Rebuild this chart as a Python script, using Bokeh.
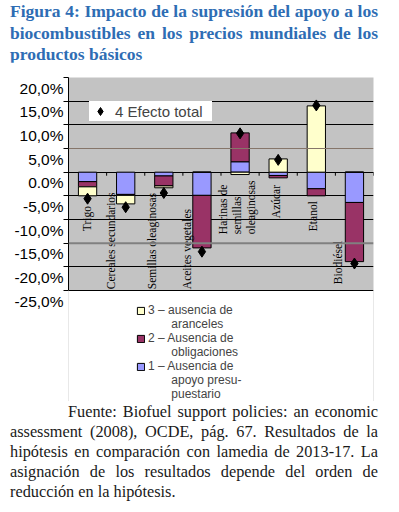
import numpy as np
from bokeh.plotting import figure
from bokeh.models import (ColumnDataSource, Range1d, FactorRange, FixedTicker, Legend,
                          LegendItem, Span, Div, BoxAnnotation, LinearAxis)
from bokeh.layouts import column
from bokeh.embed import file_html
from bokeh.resources import INLINE
from bokeh.core.properties import value

# ---------------- data ----------------
categories = ["Trigo", "Cereales secundarios", "Semillas oleaginosas", "Aceites vegetales",
              "Harinas de semillas oleaginosas", "Azúcar", "Etanol", "Biodiésel"]
category_labels = ["Trigo", "Cereales secundarios", "Semillas oleaginosas", "Aceites vegetales",
                   "Harinas de\nsemillas\noleaginosas", "Azúcar", "Etanol", "Biodiésel"]
s1_apoyo = [-2.0, -4.7, -0.8, -4.9, 2.2, -0.7, -3.5, -6.4]
s2_obligaciones = [-1.1, -0.2, -2.1, -11.1, 6.1, -0.5, -1.5, -12.5]
s3_aranceles = [-1.9, -1.8, -0.4, 0.0, -0.5, 2.8, 14.0, 0.0]
s4_total = [-5.6, -7.4, -4.4, -16.8, 8.2, 2.6, 14.1, -19.3]
y_ticks = [20, 15, 10, 5, 0, -5, -10, -15, -20, -25]
y_tick_labels = ["20,0%", "15,0%", "10,0%", "5,0%", "0.0%", "-5,0%", "-10,0%",
                 "-15,0%", "-20,0%", "-25,0%"]
total_label = "4 Efecto total"
legend_s3 = ["3 – ausencia de", "aranceles"]
legend_s2 = ["2 – Ausencia de", "obligaciones"]
legend_s1 = ["1 – Ausencia de", "apoyo presu-", "puestario"]
title_lines = ["Figura 4: Impacto de la supresión del apoyo a los",
               "biocombustibles en los precios mundiales de los",
               "productos básicos"]
caption_lines = ["Fuente: Biofuel support policies: an economic",
                 "assessment (2008), OCDE, pág. 67. Resultados de la",
                 "hipótesis en comparación con lamedia de 2013-17. La",
                 "asignación de los resultados depende del orden de",
                 "reducción en la hipótesis."]

# ---------------- styles ----------------
C_PURPLE = "#9999FF"
C_MAROON = "#993366"
C_YELLOW = "#FFFFCC"
label_dx = [-1, -15, -12, -15, -3, -2, -3, -16]     # px, horizontal nudge of category labels
label_dy = [59, 117, 117, 117, 62, 46, 59, 112]     # px below zero line where label text starts

Y_TOP, Y_BOT = 20, -25
PX_PER = 213 / (Y_TOP - Y_BOT)      # pixels per percentage point in the plot area
FIG_H, BORDER_TOP = 339, 15
FRAME_H = FIG_H - BORDER_TOP
y_start = Y_TOP - FRAME_H / PX_PER   # frame continues (white) below the plot area
LAB_SHIFT = 10.5 / PX_PER            # tick labels sit ~10px below their gridlines

p = figure(x_range=FactorRange(*categories), y_range=Range1d(y_start, Y_TOP),
           width=391, height=FIG_H, min_border_left=68, min_border_right=18,
           min_border_top=BORDER_TOP, min_border_bottom=0,
           output_backend="svg", toolbar_location=None)
p.background_fill_color = "#C3C3C3"
p.border_fill_color = "white"
p.outline_line_color = None
p.xaxis.visible = False
p.xgrid.visible = False
p.ygrid.ticker = FixedTicker(ticks=[15, 10, 0, -5, -10, -20])
p.ygrid.grid_line_color = "black"
p.ygrid.grid_line_width = 1
p.add_layout(Span(location=5, dimension="width", line_color="#86766a", line_width=1))
p.add_layout(Span(location=-15, dimension="width", line_color="#808080", line_width=2))

ax = p.yaxis[0]
ax.ticker = FixedTicker(ticks=y_ticks)
ax.bounds = (Y_BOT, Y_TOP)
ax.major_tick_out = 5
ax.major_tick_in = 0
ax.minor_tick_line_color = None
ax.axis_line_color = "black"
ax.major_tick_line_color = "black"
ax.major_label_standoff = 0
ax.major_label_overrides = {t: "" for t in y_ticks}

# label axis (shifted range so labels sit below gridlines)
p.extra_y_ranges = {"lab": Range1d(y_start + LAB_SHIFT, Y_TOP + LAB_SHIFT)}
lab_ax = LinearAxis(y_range_name="lab", ticker=FixedTicker(ticks=y_ticks),
                    major_label_overrides={t: l for t, l in zip(y_ticks, y_tick_labels)},
                    axis_line_color=None, major_tick_line_color=None,
                    minor_tick_line_color=None, major_tick_out=0, major_tick_in=0,
                    major_label_standoff=0, major_label_text_font="Liberation Sans",
                    major_label_text_font_size="15.5px", major_label_text_color="black")
p.add_layout(lab_ax, "left")

# category tick marks on zero line
n = len(categories)
bounds = np.arange(1, n + 1)
p.segment(x0=bounds, y0=np.zeros(n), x1=bounds, y1=np.full(n, -0.75),
          line_color="black", line_width=1)

# stacked bars (positives up, negatives down)
pos = np.zeros(n)
neg = np.zeros(n)
bar_r = {}
for key, vals, color in [("s1", s1_apoyo, C_PURPLE), ("s2", s2_obligaciones, C_MAROON),
                         ("s3", s3_aranceles, C_YELLOW)]:
    v = np.array(vals, dtype=float)
    bottom = np.where(v >= 0, pos, neg)
    top = bottom + v
    pos = np.where(v >= 0, top, pos)
    neg = np.where(v < 0, top, neg)
    src = ColumnDataSource(dict(x=categories, bottom=bottom, top=top))
    bar_r[key] = p.vbar(x="x", bottom="bottom", top="top", width=0.48, source=src,
                        fill_color=color, line_color="black", line_width=1)

tot = p.scatter(x=categories, y=s4_total, marker="diamond", size=11,
                fill_color="black", line_color="black")

# category labels (vertical, reading upwards, inside plot)
p.text(x=categories, y=np.zeros(n), text=category_labels, angle=np.pi / 2,
       x_offset=label_dx, y_offset=label_dy, text_align="left", text_baseline="middle",
       text_font=value("Liberation Serif"), text_font_size="11.5px", text_color="black",
       text_line_height=1.2)

# white area below the plot area (legend zone)
p.add_layout(BoxAnnotation(top=Y_BOT, fill_color="white", fill_alpha=1, line_color=None))
p.add_layout(Span(location=Y_BOT, dimension="width", line_color="black", line_width=1))

# "4 Efecto total" legend
leg1 = Legend(items=[LegendItem(label=total_label, renderers=[tot])],
              location=(21, FRAME_H - (121 - 77)), padding=0, margin=0, spacing=0,
              glyph_width=22, glyph_height=20, label_standoff=4, label_width=97,
              label_text_font="Liberation Sans", label_text_font_size="15px",
              background_fill_color="white", background_fill_alpha=1,
              border_line_color=None)
p.add_layout(leg1)

# series legend below plot area
blank = p.scatter(x=[], y=[], fill_alpha=0, line_alpha=0)
ind = "\u00a0" * 7
items = [LegendItem(label=legend_s3[0], renderers=[bar_r["s3"]])]
items += [LegendItem(label=ind + t, renderers=[blank]) for t in legend_s3[1:]]
items += [LegendItem(label=legend_s2[0], renderers=[bar_r["s2"]])]
items += [LegendItem(label=ind + t, renderers=[blank]) for t in legend_s2[1:]]
items += [LegendItem(label=legend_s1[0], renderers=[bar_r["s1"]])]
items += [LegendItem(label=ind + t, renderers=[blank]) for t in legend_s1[1:]]
leg2 = Legend(items=items, location=(68, 0), padding=0, margin=0, spacing=0,
              glyph_width=9, glyph_height=9, label_standoff=3, label_height=12,
              label_text_font="Liberation Sans", label_text_font_size="12px",
              background_fill_alpha=0, border_line_color=None)
p.add_layout(leg2)

# ---------------- texts ----------------
jl = "text-align:justify;text-align-last:justify;"
title_html = ('<div style="padding-top:1px;margin-left:10px;width:368px;'
              'font-family:\'Liberation Serif\';font-weight:bold;font-size:17.5px;'
              'line-height:21.5px;color:#2E6DB4;">'
              + "".join(f'<div style="{jl}">{t}</div>' for t in title_lines[:-1])
              + f'<div>{title_lines[-1]}</div></div>')
title_div = Div(text=title_html, width=391, height=62, margin=0)

cap_html = ('<div style="padding-top:1px;margin-left:10px;width:368px;'
            'font-family:\'Liberation Serif\';font-size:16.3px;line-height:20px;color:#1a1a1a;">'
            f'<div style="{jl}padding-left:58px;">{caption_lines[0]}</div>'
            + "".join(f'<div style="{jl}">{t}</div>' for t in caption_lines[1:-1])
            + f'<div>{caption_lines[-1]}</div></div>')
cap_div = Div(text=cap_html, width=391, height=106, margin=0)

layout = column(title_div, p, cap_div, spacing=0)
open("out.html", "w").write(file_html(layout, INLINE))
